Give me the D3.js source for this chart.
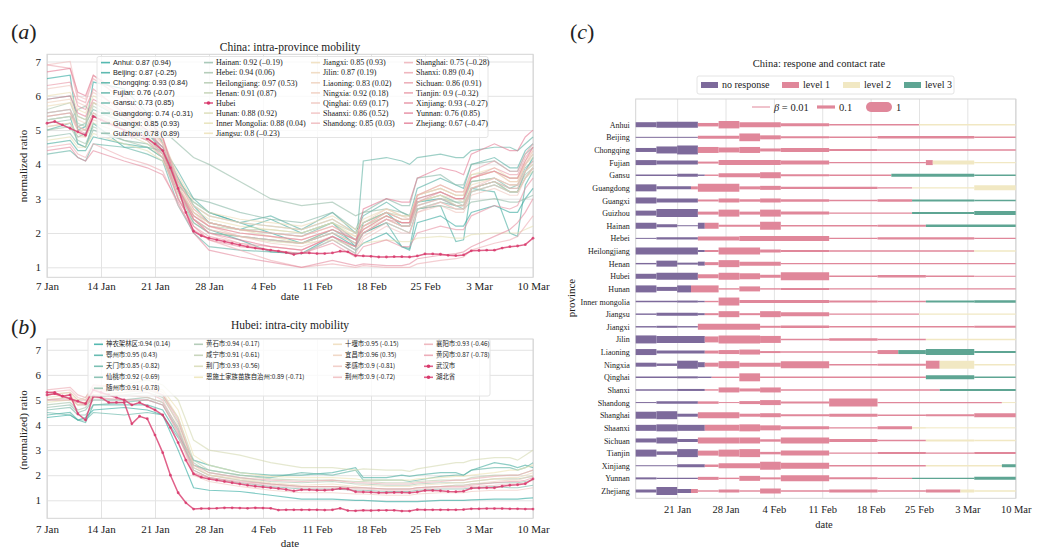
<!DOCTYPE html>
<html>
<head>
<meta charset="utf-8">
<script src="https://cdn.jsdelivr.net/npm/d3@7"></script>
<style>
  body { margin: 0; background: #fff; }
  text { font-family: "Liberation Serif", "DejaVu Serif", serif; fill: #222; }
</style>
</head>
<body>
<svg id="fig" width="1039" height="551"></svg>
<script>
// ---------- data: panel (a) / (b) ----------
var sampleDays = [0, 3, 4, 5, 6, 10, 13, 15, 17, 19, 21, 25, 29, 33, 37, 40, 41, 44, 46, 47, 48, 51, 53, 54, 55, 58, 60, 61, 62, 63] // days after 7 Jan

var provLegend = ['Anhui', 'Beijing', 'Chongqing', 'Fujian', 'Gansu', 'Guangdong', 'Guangxi', 'Guizhou',
  'Hainan', 'Hebei', 'Heilongjiang', 'Henan', 'Hubei', 'Hunan', 'Inner Mongolia', 'Jiangsu',
  'Jiangxi', 'Jilin', 'Liaoning', 'Ningxia', 'Qinghai', 'Shaanxi', 'Shandong',
  'Shanghai', 'Shanxi', 'Sichuan', 'Tianjin', 'Xinjiang', 'Yunnan', 'Zhejiang']
var provScores = ['0.87 (0.94)', '0.87 (-0.25)', '0.93 (0.84)', '0.76 (-0.07)', '0.73 (0.85)', '0.74 (-0.31)', '0.85 (0.93)', '0.78 (0.89)',
  '0.92 (–0.19)', '0.94 (0.06)', '0.97 (0.53)', '0.91 (0.87)', '', '0.88 (0.92)', '0.88 (0.04)', '0.8 (–0.23)',
  '0.85 (0.93)', '0.87 (0.19)', '0.83 (0.02)', '0.92 (0.18)', '0.69 (0.17)', '0.86 (0.52)', '0.85 (0.03)',
  '0.75 (–0.28)', '0.89 (0.4)', '0.86 (0.91)', '0.9 (–0.32)', '0.93 (–0.27)', '0.76 (0.85)', '0.67 (–0.47)']
var provValues = [
  [6.5, 6.6, 5.0, 5.1, 6.4, 6.2, 5.5, 4.6, 3.4, 2.9, 2.6, 2.3, 2.0, 1.7, 2.0, 1.6, 2.3, 2.6, 2.2, 2.2, 2.9, 3.0, 2.8, 2.8, 3.3, 3.5, 3.2, 3.2, 3.8, 4.2],
  [5.3, 5.4, 4.6, 4.5, 5.2, 4.5, 4.5, 4.2, 3.2, 2.4, 2.1, 1.8, 1.45, 1.4, 1.9, 1.5, 1.7, 2.0, 1.6, 1.5, 2.3, 2.5, 2.2, 2.2, 2.6, 2.8, 2.6, 2.6, 3.0, 3.3],
  [4.6, 4.7, 4.4, 4.4, 4.8, 4.6, 4.5, 4.4, 3.6, 2.8, 2.3, 2.1, 2.4, 2.0, 2.3, 1.6, 2.0, 2.3, 1.6, 1.55, 2.7, 2.8, 1.75, 1.8, 3.3, 3.2, 2.0, 1.9, 3.4, 3.8],
  [5.0, 5.2, 4.8, 4.9, 5.4, 5.0, 4.9, 4.5, 3.8, 3.0, 2.6, 2.3, 2.5, 2.1, 2.6, 2.0, 2.5, 2.9, 2.6, 2.5, 3.3, 3.6, 3.4, 3.3, 4.0, 4.2, 3.9, 3.9, 4.4, 4.6],
  [4.3, 4.4, 4.2, 4.1, 4.6, 4.5, 4.3, 4.1, 2.8, 2.0, 1.6, 1.5, 1.45, 1.4, 1.8, 1.4, 4.1, 4.2, 4.1, 4.0, 4.2, 4.3, 4.2, 4.2, 4.4, 4.5, 4.5, 4.4, 4.6, 4.8],
  [5.9, 6.0, 5.4, 5.3, 5.8, 5.3, 4.9, 4.4, 3.2, 2.3, 2.0, 1.9, 1.8, 1.7, 2.1, 1.7, 2.0, 2.3, 2.1, 2.0, 2.7, 2.9, 2.8, 2.7, 3.2, 3.4, 3.2, 3.2, 3.6, 3.9],
  [5.5, 5.6, 5.1, 5.2, 5.6, 5.2, 4.8, 4.3, 3.3, 2.6, 2.3, 2.1, 2.0, 1.9, 2.3, 1.8, 2.2, 2.5, 2.3, 2.3, 2.9, 3.1, 2.9, 2.9, 3.5, 3.6, 3.3, 3.4, 3.9, 4.1],
  [4.8, 4.9, 4.6, 4.5, 5.0, 4.7, 4.6, 4.3, 3.5, 3.0, 2.9, 2.6, 2.4, 2.3, 2.6, 2.1, 2.6, 3.0, 2.8, 2.8, 3.6, 3.7, 3.4, 3.4, 4.0, 4.1, 3.8, 3.8, 4.3, 4.5],
  [5.2, 5.3, 5.6, 5.7, 5.4, 5.5, 5.3, 5.0, 4.6, 4.2, 4.0, 3.5, 3.0, 2.8, 2.9, 2.5, 2.6, 2.7, 2.6, 2.5, 2.7, 2.8, 2.7, 2.7, 2.9, 3.0, 2.9, 2.9, 3.0, 3.1],
  [5.0, 5.1, 4.7, 4.6, 5.1, 4.7, 4.5, 4.2, 3.0, 2.3, 2.0, 1.9, 1.8, 1.7, 2.1, 1.8, 2.0, 2.4, 2.2, 2.2, 2.8, 3.0, 2.9, 2.8, 3.3, 3.5, 3.3, 3.3, 3.7, 3.9],
  [5.6, 5.8, 5.2, 5.1, 5.7, 5.2, 5.0, 4.7, 3.6, 2.8, 2.5, 2.3, 2.2, 2.1, 2.4, 2.0, 2.3, 2.6, 2.4, 2.4, 3.0, 3.2, 3.0, 3.0, 3.5, 3.6, 3.4, 3.4, 3.8, 4.0],
  [5.4, 5.5, 5.1, 5.0, 5.5, 5.0, 4.7, 4.3, 3.3, 2.5, 2.2, 2.1, 2.1, 2.0, 2.3, 2.0, 2.3, 2.6, 2.5, 2.5, 3.1, 3.3, 3.1, 3.1, 3.7, 3.8, 3.6, 3.6, 4.0, 4.3],
  null,
  [5.1, 5.2, 4.9, 4.8, 5.2, 4.9, 4.6, 4.2, 3.1, 2.4, 2.1, 1.9, 1.75, 1.7, 2.0, 1.7, 2.1, 2.5, 2.3, 2.3, 2.9, 3.1, 2.8, 2.8, 3.3, 3.5, 3.2, 3.2, 3.6, 3.8],
  [4.7, 4.8, 4.5, 4.5, 4.9, 4.6, 4.4, 4.1, 3.3, 2.6, 2.3, 2.1, 1.9, 1.7, 1.8, 1.6, 1.7, 1.8, 1.75, 1.75, 1.85, 1.9, 1.85, 1.85, 1.95, 2.0, 2.0, 2.0, 2.1, 2.2],
  [6.0, 6.1, 5.6, 5.5, 6.0, 5.5, 5.1, 4.6, 3.5, 2.7, 2.4, 2.2, 2.1, 2.0, 2.3, 1.9, 2.2, 2.6, 2.4, 2.4, 3.1, 3.4, 3.2, 3.2, 3.7, 3.9, 3.6, 3.6, 4.1, 4.4],
  [5.7, 5.8, 5.4, 5.3, 5.8, 5.4, 5.1, 4.7, 3.7, 2.9, 2.6, 2.4, 2.3, 2.2, 2.5, 2.1, 2.4, 2.7, 2.5, 2.5, 3.1, 3.3, 3.1, 3.1, 3.6, 3.8, 3.5, 3.5, 4.0, 4.2],
  [5.3, 5.4, 5.0, 5.0, 5.4, 5.1, 4.8, 4.4, 3.4, 2.6, 2.3, 2.1, 2.0, 1.9, 2.2, 1.9, 2.2, 2.5, 2.3, 2.3, 2.9, 3.1, 3.0, 2.9, 3.4, 3.6, 3.4, 3.4, 3.8, 4.0],
  [5.8, 5.9, 5.3, 5.2, 5.8, 5.4, 5.0, 4.6, 3.5, 2.8, 2.5, 2.3, 2.2, 2.1, 2.4, 2.0, 2.3, 2.7, 2.5, 2.4, 3.1, 3.3, 3.1, 3.1, 3.6, 3.8, 3.5, 3.5, 4.0, 4.3],
  [5.1, 5.2, 4.8, 4.8, 5.3, 5.0, 4.7, 4.3, 3.2, 2.5, 2.2, 2.0, 1.9, 1.8, 2.1, 1.8, 2.1, 2.4, 2.2, 2.2, 2.7, 2.9, 2.7, 2.7, 3.2, 3.4, 3.2, 3.2, 3.6, 3.9],
  [6.2, 6.3, 5.8, 5.7, 6.1, 5.6, 5.2, 4.7, 3.4, 2.6, 2.2, 1.9, 1.7, 1.6, 1.9, 1.5, 1.9, 2.3, 2.1, 2.0, 2.6, 2.8, 2.6, 2.6, 3.1, 3.3, 3.1, 3.1, 3.6, 3.9],
  [6.9, 7.0, 6.0, 5.9, 6.6, 5.8, 5.2, 4.6, 3.2, 2.4, 2.0, 1.7, 1.5, 1.4, 1.8, 1.4, 1.8, 2.2, 2.0, 2.0, 2.6, 2.9, 2.7, 2.7, 3.3, 3.6, 3.4, 3.4, 4.0, 4.4],
  [5.5, 5.6, 5.1, 5.0, 5.5, 5.1, 4.8, 4.3, 3.2, 2.4, 2.1, 1.9, 1.8, 1.7, 2.0, 1.7, 2.0, 2.4, 2.2, 2.2, 2.8, 3.0, 2.8, 2.8, 3.3, 3.5, 3.3, 3.3, 3.8, 4.1],
  [4.5, 4.6, 4.3, 4.2, 4.6, 4.2, 4.0, 3.8, 2.8, 2.1, 1.8, 1.5, 1.2, 1.0, 1.1, 1.0, 1.05, 1.0, 1.0, 1.0, 1.1, 1.2, 1.25, 1.3, 1.5, 1.7, 1.8, 1.9, 2.2, 2.5],
  [6.9, 6.8, 5.9, 5.8, 6.5, 5.9, 5.3, 4.8, 3.5, 2.7, 2.3, 2.1, 2.0, 1.9, 2.2, 1.8, 2.2, 2.6, 2.4, 2.4, 3.1, 3.4, 3.2, 3.2, 3.8, 4.1, 3.8, 3.8, 4.3, 4.6],
  [5.4, 5.5, 5.0, 4.9, 5.4, 5.0, 4.7, 4.2, 3.0, 2.2, 1.9, 1.7, 1.6, 1.5, 1.9, 1.6, 2.0, 2.4, 2.3, 2.3, 2.9, 3.2, 3.0, 3.0, 3.6, 3.9, 3.7, 3.7, 4.2, 4.5],
  [6.3, 6.4, 5.7, 5.6, 6.2, 5.5, 5.0, 4.4, 3.0, 2.2, 1.8, 1.6, 1.5, 1.4, 1.7, 1.3, 1.6, 1.8, 1.6, 1.6, 2.0, 2.2, 2.1, 2.1, 2.5, 2.8, 2.7, 2.8, 3.3, 3.6],
  [4.4, 4.5, 4.2, 4.1, 4.4, 4.1, 3.9, 3.7, 2.9, 2.0, 1.5, 1.3, 1.15, 1.0, 1.2, 1.05, 1.1, 1.05, 1.05, 1.1, 1.25, 1.35, 1.4, 1.45, 1.6, 1.9, 2.1, 2.3, 2.6, 3.0],
  [5.9, 6.0, 5.5, 5.4, 5.9, 5.4, 5.0, 4.5, 3.3, 2.5, 2.2, 2.0, 1.9, 1.8, 2.1, 1.8, 2.1, 2.5, 2.3, 2.3, 3.0, 3.2, 3.0, 3.0, 3.6, 3.8, 3.6, 3.6, 4.1, 4.5],
  [6.7, 6.8, 6.1, 6.0, 6.6, 6.0, 5.4, 4.8, 3.3, 2.4, 2.0, 1.8, 1.6, 1.5, 1.9, 1.6, 2.7, 3.0, 2.9, 2.9, 3.6, 3.9, 3.8, 3.7, 4.3, 4.6, 4.4, 4.4, 4.8, 5.0]
]
// daily, 7 Jan .. 10 Mar
var hubeiValues = [5.2, 5.25, 5.15, 5.05, 4.95, 4.85, 5.4, 5.3, 5.2, 5.1, 5.0, 4.8, 4.9, 4.75, 4.6, 4.4, 3.9, 3.3, 2.6, 2.05, 1.92, 1.85, 1.8, 1.75, 1.7,
  1.65, 1.6, 1.56, 1.53, 1.5, 1.47, 1.43, 1.37, 1.42, 1.42, 1.4, 1.4, 1.42, 1.47, 1.45, 1.34, 1.33, 1.32, 1.3, 1.3, 1.31, 1.31, 1.3, 1.33, 1.39, 1.39, 1.38, 1.35, 1.34,
  1.36, 1.48, 1.49, 1.5, 1.5, 1.56, 1.6, 1.62, 1.66, 1.85]
var wuhanValues = [5.3, 5.3, 5.15, 5.2, 4.45, 4.2, 5.15, 5.1, 4.9, 4.9, 4.9, 4.05, 4.35, 4.25, 3.6, 2.9, 2.0, 1.3, 0.9, 0.65, 0.67, 0.67, 0.68, 0.7, 0.7,
  0.69, 0.68, 0.7, 0.69, 0.68, 0.61, 0.62, 0.62, 0.62, 0.62, 0.62, 0.61, 0.62, 0.68, 0.59, 0.58, 0.6, 0.59, 0.6, 0.6, 0.6, 0.57, 0.57, 0.63, 0.62, 0.62, 0.62, 0.62, 0.62,
  0.63, 0.66, 0.66, 0.67, 0.67, 0.67, 0.66, 0.66, 0.65, 0.65]

var cityLegend = ['神农架林区', '鄂州市', '天门市', '仙桃市', '随州市', '黄石市', '咸宁市', '荆门市', '恩施土家族苗族自治州',
  '十堰市', '宜昌市', '孝感市', '荆州市', '襄阳市', '黄冈市', '武汉市', '湖北省']
var cityScores = ['0.94 (0.14)', '0.95 (0.43)', '0.85 (-0.82)', '0.92 (-0.69)', '0.91 (-0.78)', '0.94 (-0.17)', '0.91 (-0.61)', '0.93 (-0.56)', '0.89 (-0.71)',
  '0.95 (-0.15)', '0.96 (0.35)', '0.9 (-0.81)', '0.9 (-0.72)', '0.93 (-0.46)', '0.87 (-0.78)', '', '']
var cityValues = [
  [4.3, 4.4, 4.2, 4.3, 4.6, 4.7, 4.6, 4.4, 3.0, 1.5, 1.4, 1.35, 1.2, 1.05, 1.05, 1.0, 1.0, 0.95, 0.95, 0.95, 0.95, 1.0, 1.0, 1.0, 1.02, 1.05, 1.05, 1.05, 1.08, 1.1],
  [4.4, 4.5, 4.2, 4.1, 4.8, 4.8, 4.8, 4.6, 3.6, 2.6, 2.4, 2.1, 2.0, 2.0, 2.1, 2.3, 1.9, 1.9, 2.0, 1.95, 2.0, 2.1, 2.1, 2.0, 2.2, 2.5, 2.4, 2.3, 2.4, 2.3],
  [4.5, 4.4, 4.2, 4.2, 4.5, 4.4, 4.5, 4.4, 3.5, 2.4, 2.2, 2.0, 1.9, 2.1, 2.0, 2.2, 1.8, 1.8, 1.8, 1.75, 1.8, 1.95, 2.0, 2.0, 2.2, 2.3, 2.3, 2.2, 2.3, 2.5],
  [4.6, 4.7, 4.4, 4.4, 4.8, 4.9, 5.0, 4.8, 3.8, 2.2, 1.9, 1.7, 1.55, 1.45, 1.45, 1.4, 1.4, 1.35, 1.35, 1.35, 1.4, 1.45, 1.45, 1.45, 1.5, 1.55, 1.5, 1.5, 1.55, 1.6],
  [4.7, 4.8, 4.5, 4.6, 5.0, 5.0, 5.1, 4.9, 3.9, 2.3, 2.0, 1.8, 1.65, 1.55, 1.55, 1.5, 1.5, 1.45, 1.45, 1.45, 1.5, 1.55, 1.6, 1.6, 1.65, 1.7, 1.7, 1.7, 1.75, 1.8],
  [4.8, 4.9, 4.6, 4.7, 5.1, 5.2, 5.3, 5.1, 4.1, 2.5, 2.1, 1.9, 1.75, 1.7, 1.75, 1.65, 1.65, 1.6, 1.6, 1.6, 1.65, 1.7, 1.7, 1.7, 1.75, 1.85, 1.85, 1.85, 1.9, 1.95],
  [5.0, 5.1, 4.8, 4.8, 5.2, 5.3, 5.4, 5.2, 4.3, 2.6, 2.2, 2.0, 1.85, 1.8, 1.8, 1.75, 1.75, 1.7, 1.7, 1.7, 1.75, 1.8, 1.8, 1.8, 1.9, 2.0, 2.0, 2.0, 2.1, 2.2],
  [5.2, 5.3, 5.0, 5.1, 5.5, 5.6, 5.8, 5.6, 5.0, 3.4, 3.0, 2.8, 2.5, 2.3, 2.3, 2.2, 2.25, 2.2, 2.2, 2.15, 2.25, 2.4, 2.5, 2.5, 2.6, 2.7, 2.7, 2.6, 2.8, 3.0],
  [4.9, 5.0, 4.8, 4.9, 5.2, 5.3, 5.5, 5.4, 4.6, 2.8, 2.4, 2.1, 1.95, 1.9, 1.9, 1.85, 1.8, 1.8, 1.8, 1.8, 1.85, 1.9, 1.95, 1.95, 2.0, 2.1, 2.2, 2.2, 2.3, 2.4],
  [5.1, 5.2, 4.9, 4.9, 5.3, 5.4, 5.6, 5.3, 4.3, 2.4, 2.0, 1.85, 1.7, 1.6, 1.65, 1.55, 1.6, 1.55, 1.55, 1.55, 1.6, 1.65, 1.7, 1.7, 1.75, 1.85, 1.9, 1.9, 2.0, 2.1],
  [5.2, 5.3, 5.0, 5.0, 5.4, 5.5, 5.4, 5.2, 4.0, 2.3, 2.0, 1.8, 1.65, 1.55, 1.55, 1.5, 1.5, 1.45, 1.45, 1.45, 1.5, 1.55, 1.6, 1.6, 1.65, 1.75, 1.8, 1.8, 1.9, 2.0],
  [5.0, 5.1, 4.8, 4.8, 5.2, 5.2, 5.1, 4.9, 3.6, 2.0, 1.75, 1.55, 1.4, 1.3, 1.3, 1.25, 1.25, 1.2, 1.2, 1.2, 1.25, 1.3, 1.3, 1.3, 1.35, 1.4, 1.4, 1.4, 1.45, 1.5],
  [5.3, 5.4, 5.1, 5.0, 5.4, 5.4, 5.3, 5.0, 3.8, 2.2, 1.9, 1.7, 1.6, 1.5, 1.5, 1.45, 1.45, 1.4, 1.4, 1.4, 1.45, 1.5, 1.5, 1.5, 1.55, 1.6, 1.65, 1.65, 1.7, 1.8],
  [5.4, 5.5, 5.2, 5.1, 5.6, 5.5, 5.5, 5.2, 4.2, 2.4, 2.1, 1.9, 1.8, 1.75, 1.8, 1.7, 1.7, 1.65, 1.65, 1.65, 1.7, 1.75, 1.8, 1.8, 1.85, 1.95, 2.0, 2.0, 2.1, 2.2],
  [5.0, 5.0, 4.9, 4.8, 5.1, 5.0, 5.0, 4.8, 3.7, 2.1, 1.9, 1.75, 1.65, 1.55, 1.55, 1.5, 1.5, 1.45, 1.45, 1.45, 1.5, 1.55, 1.55, 1.55, 1.6, 1.7, 1.75, 1.75, 1.8, 1.9],
  null,
  null
]

// ---------- data: panel (c) ----------
var respLevels = ['no response', 'level 1', 'level 2', 'level 3']
var respProvinces = ['Anhui', 'Beijing', 'Chongqing', 'Fujian', 'Gansu', 'Guangdong', 'Guangxi', 'Guizhou', 'Hainan', 'Hebei',
  'Heilongjiang', 'Henan', 'Hubei', 'Hunan', 'Inner mongolia', 'Jiangsu', 'Jiangxi', 'Jilin', 'Liaoning', 'Ningxia',
  'Qinghai', 'Shanxi', 'Shandong', 'Shanghai', 'Shaanxi', 'Sichuan', 'Tianjin', 'Xinjiang', 'Yunnan', 'Zhejiang']
// [start day, end day (days after 15 Jan), response level, beta]
var respSegments = [
  [[0, 3, 0, .25], [3, 9, 0, .36], [9, 12, 1, .12], [12, 15, 1, .55], [15, 21, 1, .25], [21, 28, 1, .09], [28, 41, 1, .02], [41, 55, 2, .02]],
  [[0, 9, 0, .01], [9, 15, 1, .09], [15, 18, 1, .6], [18, 21, 1, .16], [21, 28, 1, .04], [28, 35, 1, .02], [35, 49, 1, .06], [49, 55, 1, .02]],
  [[0, 3, 0, .16], [3, 6, 0, .49], [6, 9, 0, .8], [9, 12, 1, .36], [12, 15, 1, .25], [15, 18, 1, .36], [18, 21, 1, .09], [21, 28, 1, .16], [28, 35, 1, .04], [35, 55, 1, .02]],
  [[0, 3, 0, .25], [3, 9, 0, .16], [9, 12, 1, .04], [12, 21, 1, .25], [21, 28, 1, .16], [28, 42, 1, .02], [42, 43, 1, .25], [43, 49, 2, .16], [49, 55, 2, .02]],
  [[0, 6, 0, .02], [6, 9, 0, .09], [9, 10, 0, .02], [10, 12, 1, .02], [12, 18, 1, .16], [18, 21, 1, .36], [21, 28, 1, .04], [28, 37, 1, .02], [37, 49, 3, .09], [49, 55, 3, .02]],
  [[0, 3, 0, .49], [3, 8, 0, .09], [8, 9, 1, .09], [9, 15, 1, .64], [15, 18, 1, .09], [18, 21, 1, .16], [21, 35, 1, .06], [35, 40, 1, .02], [40, 49, 2, .02], [49, 55, 2, .25]],
  [[0, 3, 0, .36], [3, 9, 0, .16], [9, 12, 1, .04], [12, 15, 1, .16], [15, 18, 1, .06], [18, 21, 1, .16], [21, 28, 1, .06], [28, 35, 1, .02], [35, 40, 1, .06], [40, 49, 3, .04], [49, 55, 3, .02]],
  [[0, 3, 0, .25], [3, 9, 0, .64], [9, 12, 1, .09], [12, 15, 1, .49], [15, 18, 1, .09], [18, 21, 1, .49], [21, 28, 1, .09], [28, 40, 1, .02], [40, 49, 3, .04], [49, 55, 3, .16]],
  [[0, 3, 0, .36], [3, 6, 0, .09], [6, 9, 0, .01], [9, 10, 0, .36], [10, 12, 1, .36], [12, 18, 1, .04], [18, 21, 1, .64], [21, 35, 1, .02], [35, 42, 1, .04], [42, 55, 3, .06]],
  [[0, 3, 0, .01], [3, 9, 0, .06], [9, 15, 1, .16], [15, 28, 1, .25], [28, 35, 1, .02], [35, 49, 1, .06], [49, 55, 1, .02]],
  [[0, 9, 0, .49], [9, 10, 0, .04], [10, 12, 1, .04], [12, 18, 1, .49], [18, 21, 1, .09], [21, 28, 1, .04], [28, 49, 1, .02], [49, 55, 2, .02]],
  [[0, 3, 0, .02], [3, 6, 0, .36], [6, 9, 0, .04], [9, 10, 0, .16], [10, 12, 1, .09], [12, 15, 1, .49], [15, 21, 1, .16], [21, 55, 1, .02]],
  [[0, 3, 0, .25], [3, 9, 0, .49], [9, 12, 1, .16], [12, 15, 1, .49], [15, 18, 1, .36], [18, 21, 1, .09], [21, 28, 1, .64], [28, 35, 1, .02], [35, 42, 1, .06], [42, 49, 1, .02], [49, 55, 1, .01]],
  [[0, 3, 0, .49], [3, 6, 0, .16], [6, 8, 0, .49], [8, 12, 1, .49], [12, 15, 1, .02], [15, 18, 1, .25], [18, 21, 1, .02], [21, 28, 1, .04], [28, 55, 1, .02]],
  [[0, 6, 0, .02], [6, 9, 0, .04], [9, 10, 0, .02], [10, 12, 1, .02], [12, 15, 1, .64], [15, 28, 1, .09], [28, 35, 1, .04], [35, 42, 1, .02], [42, 49, 3, .04], [49, 55, 3, .06]],
  [[0, 3, 0, .02], [3, 9, 0, .09], [9, 10, 0, .04], [10, 12, 1, .04], [12, 15, 1, .36], [15, 18, 1, .04], [18, 21, 1, .36], [21, 28, 1, .16], [28, 41, 1, .02], [41, 55, 2, .02]],
  [[0, 3, 0, .02], [3, 6, 0, .04], [6, 9, 0, .02], [9, 18, 1, .36], [18, 21, 1, .04], [21, 28, 1, .06], [28, 49, 1, .02], [49, 55, 1, .04]],
  [[0, 3, 0, .64], [3, 10, 0, .49], [10, 12, 1, .36], [12, 18, 1, .64], [18, 21, 1, .49], [21, 28, 1, .02], [28, 35, 1, .06], [35, 42, 1, .02], [42, 55, 2, .02]],
  [[0, 3, 0, .36], [3, 10, 0, .09], [10, 12, 1, .09], [12, 15, 1, .16], [15, 18, 1, .25], [18, 21, 1, .04], [21, 35, 1, .02], [35, 38, 1, .16], [38, 42, 3, .16], [42, 49, 3, .36], [49, 55, 3, .04]],
  [[0, 3, 0, .16], [3, 6, 0, .06], [6, 9, 0, .64], [9, 10, 0, .25], [10, 12, 1, .16], [12, 15, 1, .49], [15, 21, 1, .16], [21, 28, 1, .49], [28, 35, 1, .02], [35, 42, 1, .04], [42, 44, 1, .64], [44, 49, 2, .64], [49, 55, 2, .02]],
  [[0, 6, 0, .02], [6, 9, 0, .04], [9, 11, 0, .02], [11, 15, 1, .02], [15, 18, 1, .64], [18, 42, 1, .02], [42, 49, 3, .16], [49, 55, 3, .02]],
  [[0, 6, 0, .02], [6, 10, 0, .04], [10, 12, 1, .02], [12, 15, 1, .25], [15, 18, 1, .09], [18, 21, 1, .25], [21, 44, 1, .02], [44, 55, 3, .04]],
  [[0, 3, 0, .01], [3, 9, 0, .06], [9, 12, 1, .06], [12, 15, 1, .01], [15, 18, 1, .09], [18, 21, 1, .25], [21, 28, 1, .04], [28, 35, 1, .64], [35, 53, 1, .02], [53, 55, 2, .01]],
  [[0, 3, 0, .49], [3, 6, 0, .64], [6, 9, 0, .09], [9, 15, 1, .36], [15, 18, 1, .09], [18, 21, 1, .16], [21, 28, 1, .04], [28, 35, 1, .09], [35, 42, 1, .02], [42, 49, 1, .04], [49, 55, 1, .16]],
  [[0, 3, 0, .36], [3, 6, 0, .49], [6, 10, 0, .36], [10, 15, 1, .36], [15, 18, 1, .49], [18, 21, 1, .25], [21, 28, 1, .09], [28, 35, 1, .02], [35, 40, 1, .09], [40, 42, 2, .02], [42, 55, 2, .01]],
  [[0, 3, 0, .16], [3, 6, 0, .36], [6, 9, 0, .09], [9, 15, 1, .36], [15, 18, 1, .36], [18, 21, 1, .06], [21, 28, 1, .36], [28, 35, 1, .09], [35, 42, 1, .02], [42, 49, 2, .04], [49, 55, 2, .02]],
  [[0, 3, 0, .49], [3, 6, 0, .12], [6, 9, 0, .64], [9, 12, 1, .25], [12, 15, 1, .49], [15, 18, 1, .64], [18, 21, 1, .06], [21, 28, 1, .25], [28, 35, 1, .02], [35, 42, 1, .04], [42, 49, 1, .02], [49, 55, 1, .04]],
  [[0, 6, 0, .01], [6, 10, 0, .09], [10, 12, 1, .06], [12, 18, 1, .25], [18, 21, 1, .64], [21, 28, 1, .36], [28, 42, 1, .02], [42, 53, 2, .02], [53, 55, 3, .09]],
  [[0, 3, 0, .04], [3, 9, 0, .02], [9, 12, 1, .09], [12, 15, 1, .02], [15, 18, 1, .25], [18, 21, 1, .04], [21, 28, 1, .36], [28, 35, 1, .04], [35, 40, 1, .02], [40, 49, 3, .02], [49, 55, 3, .09]],
  [[0, 3, 0, .09], [3, 6, 0, .64], [6, 8, 0, .16], [8, 9, 1, .16], [9, 12, 1, .02], [12, 15, 1, .09], [15, 18, 1, .02], [18, 21, 1, .25], [21, 28, 1, .02], [28, 35, 1, .09], [35, 42, 1, .02], [42, 47, 1, .09], [47, 49, 2, .09], [49, 55, 2, .02]]
]
var betaLegend = [0.01, 0.1, 1]

// ---------- drawing ----------
var svg = d3.select('#fig')
var gridColor = '#e3e3e3'
var frameColor = '#d4d4d4'
var fmt = d3.timeFormat('%-d %b')
var t0 = new Date(2020, 0, 7)
function dayDate (d) { return d3.timeDay.offset(t0, d) }
var weekTicks = d3.range(10).map(function (k) { return dayDate(7 * k) })
var pal = d3.scaleLinear().domain([0, 0.28, 0.5, 0.72, 1])
  .range(['#2aa79d', '#96bba7', '#ece3b3', '#f0bfbf', '#e27a93'])
var crimson = '#d8386c'

function panelLabel (x, y, letter) {
  var t = svg.append('text').attr('x', x).attr('y', y).style('font-size', '22px')
  t.append('tspan').text('(')
  t.append('tspan').style('font-style', 'italic').text(letter)
  t.append('tspan').text(')')
}

function linePanel (o) {
  var x = d3.scaleTime().domain([t0, dayDate(63)]).range([47, 533])
  var y = d3.scaleLinear().domain(o.yDomain).range([o.bottom, o.top])
  var g = svg.append('g')

  var gx = g.append('g').attr('transform', 'translate(0,' + o.bottom + ')')
    .call(d3.axisBottom(x).tickValues(weekTicks).tickFormat(fmt).tickSize(-(o.bottom - o.top)).tickPadding(o.xPad))
  var gy = g.append('g').attr('transform', 'translate(47,0)')
    .call(d3.axisLeft(y).tickValues([1, 2, 3, 4, 5, 6, 7]).tickFormat(d3.format('d')).tickSize(-486).tickPadding(6))
  ;[gx, gy].forEach(function (a) {
    a.select('.domain').remove()
    a.selectAll('line').attr('stroke', gridColor)
    a.selectAll('text').style('font-size', '11px').style('font-family', '"Liberation Serif", serif').attr('fill', '#222')
  })
  g.append('rect').attr('x', 47).attr('y', o.top).attr('width', 486).attr('height', o.bottom - o.top)
    .attr('fill', 'none').attr('stroke', frameColor)

  var line = d3.line().x(function (d) { return x(d[0]) }).y(function (d) { return y(d[1]) })
  o.values.forEach(function (vals, i) {
    if (!vals) return
    g.append('path').datum(vals.map(function (v, k) { return [dayDate(sampleDays[k]), v] }))
      .attr('d', line).attr('fill', 'none').attr('stroke', o.color(i))
      .attr('stroke-width', 1.2).attr('stroke-opacity', 0.6)
  })
  o.daily.forEach(function (vals) {
    var pts = vals.map(function (v, k) { return [dayDate(k), v] })
    g.append('path').datum(pts).attr('d', line).attr('fill', 'none')
      .attr('stroke', crimson).attr('stroke-width', 1.5).attr('stroke-opacity', 0.8)
    g.append('g').selectAll('circle').data(pts).join('circle')
      .attr('cx', function (d) { return x(d[0]) }).attr('cy', function (d) { return y(d[1]) })
      .attr('r', 1.4).attr('fill', crimson).attr('fill-opacity', 0.8)
  })

  // legend
  var lg = g.append('g')
  lg.append('rect').attr('x', o.legendBox[0]).attr('y', o.legendBox[1])
    .attr('width', o.legendBox[2]).attr('height', o.legendBox[3])
    .attr('fill', '#fff').attr('fill-opacity', 0.8).attr('stroke', '#e4e4e4').attr('rx', 2)
  o.names.forEach(function (name, i) {
    var col = o.columns.findIndex(function (c) { return i >= c.from && i < c.from + c.n })
    var c = o.columns[col]
    var yy = o.legendY + (i - c.from) * o.legendStep
    var special = o.special.indexOf(name) >= 0
    var colr = special ? crimson : o.color(i)
    lg.append('line').attr('x1', c.x).attr('x2', c.x + 9).attr('y1', yy).attr('y2', yy)
      .attr('stroke', colr).attr('stroke-width', 1.6).attr('stroke-opacity', 0.8)
    if (special) lg.append('circle').attr('cx', c.x + 4.5).attr('cy', yy).attr('r', 1.8).attr('fill', colr)
    lg.append('text').attr('x', c.x + 12).attr('y', yy).attr('dy', '0.34em')
      .style('font-family', c.font).style('font-size', c.size).attr('fill', o.textColor)
      .text(o.scores[i] ? name + o.sep + o.scores[i] : name)
  })

  svg.append('text').attr('x', 290).attr('y', o.titleY).attr('text-anchor', 'middle')
    .style('font-size', '11.5px').text(o.title)
  svg.append('text').attr('x', 290).attr('y', o.dateY).attr('text-anchor', 'middle')
    .style('font-size', '11px').text('date')
  svg.append('text').attr('transform', 'translate(27,' + o.ylabY + ') rotate(-90)')
    .attr('text-anchor', 'middle').style('font-size', '11px').text(o.ylabel)
}

panelLabel(11, 39, 'a')
linePanel({
  top: 54.3, bottom: 277.3, yDomain: [0.708, 7.21], xPad: 5,
  values: provValues, daily: [hubeiValues],
  color: function (i) { return pal(i / 29) },
  names: provLegend, scores: provScores, special: ['Hubei'], sep: ': ',
  columns: [
    { from: 0, n: 8, x: 101, font: '"Liberation Sans", Arial, sans-serif', size: '7.3px' },
    { from: 8, n: 8, x: 204, font: '"Liberation Serif", serif', size: '8px' },
    { from: 16, n: 7, x: 311, font: '"Liberation Serif", serif', size: '8px' },
    { from: 23, n: 7, x: 404, font: '"Liberation Serif", serif', size: '8px' }
  ],
  legendBox: [97, 56.5, 391, 81], legendY: 62.6, legendStep: 10.1, textColor: '#444',
  title: 'China: intra-province mobility', titleY: 51, dateY: 300,
  ylabel: 'normalized ratio', ylabY: 166
})

panelLabel(11, 334, 'b')
linePanel({
  top: 339, bottom: 518.3, yDomain: [0.282, 7.43], xPad: 7,
  values: cityValues, daily: [hubeiValues, wuhanValues],
  color: function (i) { return pal(i / 16) },
  names: cityLegend, scores: cityScores, special: ['武汉市', '湖北省'], sep: ':',
  columns: [
    { from: 0, n: 5, x: 94, font: '"Noto Sans CJK SC", sans-serif', size: '6.4px' },
    { from: 5, n: 4, x: 194, font: '"Noto Sans CJK SC", sans-serif', size: '6.4px' },
    { from: 9, n: 4, x: 333, font: '"Noto Sans CJK SC", sans-serif', size: '6.4px' },
    { from: 13, n: 4, x: 424, font: '"Noto Sans CJK SC", sans-serif', size: '6.4px' }
  ],
  legendBox: [88, 339, 402, 57], legendY: 344.3, legendStep: 11, textColor: '#8a8a8a',
  title: 'Hubei: intra-city mobility', titleY: 329, dateY: 547,
  ylabel: '(normalized) ratio', ylabY: 430
})

// ---------- panel (c) ----------
panelLabel(570, 39, 'c')
var rStart = new Date(2020, 0, 15)
var xc = d3.scaleTime().domain([rStart, d3.timeDay.offset(rStart, 55)]).range([635.7, 1015.7])
var yc = d3.scalePoint().domain(respProvinces).range([124.7, 491])
var wc = d3.scaleSqrt().domain([0, 1]).range([0, 10])
var levelColor = d3.scaleOrdinal().domain([0, 1, 2, 3]).range(['#7d6a9b', '#e0879a', '#f1e8c3', '#5ea593'])
var cTop = 99
var cBottom = 498.3
var cTicks = d3.range(8).map(function (k) { return d3.timeDay.offset(rStart, 6 + 7 * k) })

var gc = svg.append('g')
var gcx = gc.append('g').attr('transform', 'translate(0,' + cBottom + ')')
  .call(d3.axisBottom(xc).tickValues(cTicks).tickFormat(fmt).tickSize(-(cBottom - cTop)).tickPadding(7))
gcx.select('.domain').remove()
gcx.selectAll('line').attr('stroke', gridColor)
gcx.selectAll('text').style('font-size', '10.5px').style('font-family', '"Liberation Serif", serif').attr('fill', '#222')
var gcy = gc.append('g').attr('transform', 'translate(635.7,0)')
  .call(d3.axisLeft(yc).tickSize(0).tickPadding(6))
gcy.select('.domain').remove()
gcy.selectAll('text').style('font-size', '8px').style('font-family', '"Liberation Serif", serif').attr('fill', '#111')
gc.append('rect').attr('x', 635.7).attr('y', cTop).attr('width', 380).attr('height', cBottom - cTop)
  .attr('fill', 'none').attr('stroke', frameColor)

respSegments.forEach(function (segs, r) {
  gc.append('g').selectAll('line').data(segs).join('line')
    .attr('x1', function (d) { return xc(d3.timeDay.offset(rStart, d[0])) })
    .attr('x2', function (d) { return xc(d3.timeDay.offset(rStart, d[1])) })
    .attr('y1', yc(respProvinces[r])).attr('y2', yc(respProvinces[r]))
    .attr('stroke', function (d) { return levelColor(d[2]) })
    .attr('stroke-width', function (d) { return wc(d[3]) })
})

// colour legend
var cl = svg.append('g')
cl.append('rect').attr('x', 697).attr('y', 76).attr('width', 257).attr('height', 18)
  .attr('fill', '#fff').attr('stroke', '#e4e4e4').attr('rx', 2)
var clX = [701, 782, 843, 904]
respLevels.forEach(function (name, i) {
  cl.append('rect').attr('x', clX[i]).attr('y', 82).attr('width', 17).attr('height', 6).attr('fill', levelColor(i))
  cl.append('text').attr('x', clX[i] + 21).attr('y', 85).attr('dy', '0.34em')
    .style('font-size', '10px').text(name)
})

// beta legend
var bl = svg.append('g')
var blX = [752, 817, 866]
betaLegend.forEach(function (b, i) {
  var big = i === 2
  bl.append('line').attr('x1', blX[i] + (big ? 5 : 0)).attr('x2', blX[i] + (big ? 21 : 18))
    .attr('y1', 107).attr('y2', 107).attr('stroke', levelColor(1))
    .attr('stroke-width', wc(b)).attr('stroke-linecap', big ? 'round' : 'butt')
  var t = bl.append('text').attr('x', blX[i] + (big ? 30 : 22)).attr('y', 107).attr('dy', '0.34em')
    .style('font-size', '10.5px')
  if (i === 0) {
    t.append('tspan').style('font-style', 'italic').text('β')
    t.append('tspan').text(' = ' + b)
  } else {
    t.text(b)
  }
})

svg.append('text').attr('x', 819).attr('y', 67).attr('text-anchor', 'middle')
  .style('font-size', '10.5px').text('China: respone and contact rate')
svg.append('text').attr('x', 824).attr('y', 528).attr('text-anchor', 'middle')
  .style('font-size', '10.5px').text('date')
svg.append('text').attr('transform', 'translate(575,298) rotate(-90)')
  .attr('text-anchor', 'middle').style('font-size', '11px').text('province')
</script>
</body>
</html>
